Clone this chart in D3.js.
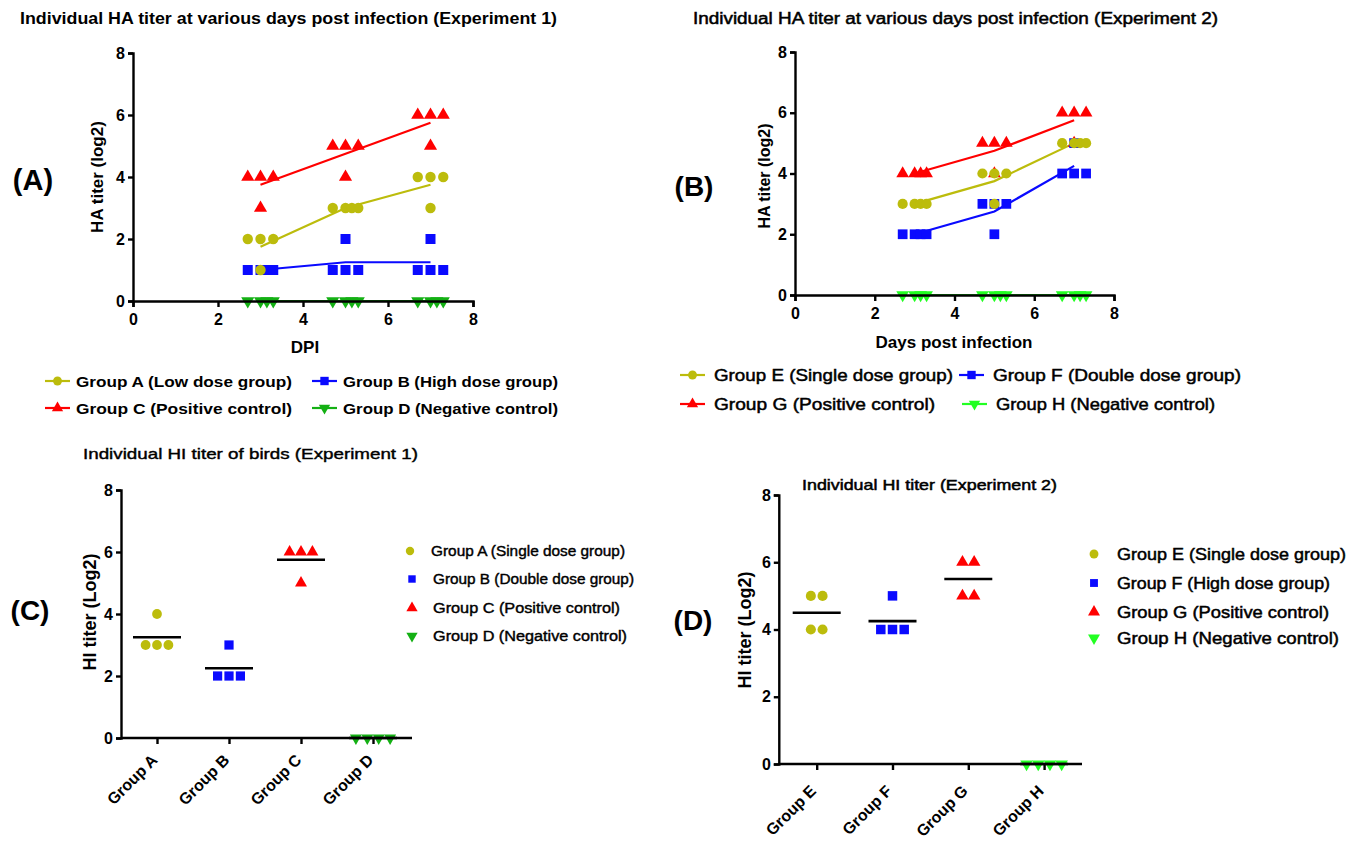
<!DOCTYPE html>
<html>
<head>
<meta charset="utf-8">
<script src="https://cdn.jsdelivr.net/npm/d3@7"></script>
<style>
  body { margin: 0; background: #fff; }
  svg { display: block; }
  text { font-family: "Liberation Sans", Arial, Helvetica, sans-serif; fill: #000; }
</style>
</head>
<body>
<svg id="chart" width="1360" height="841"></svg>
<script>
// HA / HI titer figure, 4 panels

// Days post infection
const days = [3, 5, 7];

// Experiment 1 HA titers (log2), 4 birds per day
const haGroupA = [[2, 2, 1, 2], [3, 3, 3, 3], [4, 4, 3, 4]];
const haGroupB = [[1, 1, 1, 1], [1, 1, 2, 1], [1, 1, 2, 1]];
const haGroupC = [[4, 4, 3, 4], [5, 5, 4, 5], [6, 6, 5, 6]];
const haGroupD = [[0, 0, 0, 0], [0, 0, 0, 0], [0, 0, 0, 0]];

// Experiment 2 HA titers (log2)
const haGroupE = [[3, 3, 3, 3], [4, 4, 3, 4], [5, 5, 5, 5]];
const haGroupF = [[2, 2, 2, 2], [3, 3, 2, 3], [4, 4, 5, 4]];
const haGroupG = [[4, 4, 4, 4], [5, 5, 4, 5], [6, 6, 5, 6]];
const haGroupH = [[0, 0, 0, 0], [0, 0, 0, 0], [0, 0, 0, 0]];

// HI titers (log2)
const hiGroups1 = ['Group A', 'Group B', 'Group C', 'Group D'];
const hiValues1 = [[4, 3, 3, 3], [3, 2, 2, 2], [6, 6, 6, 5], [0, 0, 0, 0]];
const hiGroups2 = ['Group E', 'Group F', 'Group G', 'Group H'];
const hiValues2 = [[5, 5, 4, 4], [5, 4, 4, 4], [6, 6, 5, 5], [0, 0, 0, 0]];

// Legend labels
const legend1 = ['Group A (Low dose group)', 'Group B (High dose group)', 'Group C (Positive control)', 'Group D (Negative control)'];
const legend2 = ['Group E (Single dose group)', 'Group F (Double dose group)', 'Group G (Positive control)', 'Group H (Negative control)'];
const legend3 = ['Group A (Single dose group)', 'Group B (Double dose group)', 'Group C (Positive control)', 'Group D (Negative control)'];
const legend4 = ['Group E (Single dose group)', 'Group F (High dose group)', 'Group G (Positive control)', 'Group H (Negative control)'];

const yTicks = [0, 2, 4, 6, 8];
const xTicks = [0, 2, 4, 6, 8];

const svg = d3.select('#chart');

const yellow = '#bcbc0c';
const blue = '#0a0aff';
const red = '#ff0000';
const green1 = '#14b014';
const green2 = '#22ff22';

const shapes = [d3.symbolCircle, d3.symbolSquare, d3.symbolTriangle, d3.symbolTriangle];

function marker(i, size) {
  return d3.symbol().type(shapes[i]).size(size)();
}

// spread points with equal value around the centre
function dodge(values, offsets) {
  const seen = {};
  const counts = {};
  values.forEach((v) => (counts[v] = (counts[v] || 0) + 1));
  return values.map((v) => {
    seen[v] = (seen[v] || 0);
    const o = offsets[counts[v]][seen[v]];
    seen[v]++;
    return o;
  });
}

function styleAxis(g) {
  g.select('.domain').attr('stroke', '#000').attr('stroke-width', 2.4);
  g.selectAll('.tick line').attr('stroke', '#000').attr('stroke-width', 2.4);
  g.selectAll('.tick text')
    .style('font-size', '16px')
    .style('font-weight', 'bold');
}

function addText(x, y, str, size, weight, opts) {
  opts = opts || {};
  const t = svg
    .append('text')
    .attr('x', x)
    .attr('y', y)
    .attr('text-anchor', opts.anchor || 'start')
    .attr('dominant-baseline', 'central')
    .style('font-size', size + 'px')
    .style('font-weight', weight)
    .text(str);
  if (opts.rotate) t.attr('transform', `rotate(${opts.rotate},${x},${y})`);
  if (opts.len) t.attr('textLength', opts.len).attr('lengthAdjust', 'spacingAndGlyphs');
  if (opts.stroke) t.style('stroke', '#000').style('stroke-width', opts.stroke);
  return t;
}

// ---- HA panels ----
function drawHA(cfg) {
  const x = d3.scaleLinear().domain([0, 8]).range(cfg.xr);
  const y = d3.scaleLinear().domain([0, 8]).range(cfg.yr);
  const g = svg.append('g');
  const dayOffsets = { 1: [0], 2: [-0.15, 0.15], 3: [-0.3, 0, 0.3], 4: [-0.3, 0, 0.15, 0.3] };

  // mean lines
  cfg.groups.forEach((grp, gi) => {
    const means = grp.map((v) => d3.mean(v));
    g.append('path')
      .datum(means)
      .attr('fill', 'none')
      .attr('stroke', cfg.colors[gi])
      .attr('stroke-width', 2.2)
      .attr('d', d3.line().x((d, i) => x(days[i])).y((d) => y(d)));
  });

  // points, last group drawn first
  for (let gi = cfg.groups.length - 1; gi >= 0; gi--) {
    cfg.groups[gi].forEach((vals, di) => {
      const offs = dodge(vals, dayOffsets);
      g.selectAll(null)
        .data(vals)
        .enter()
        .append('path')
        .attr('d', marker(gi, cfg.sizes[gi]))
        .attr('transform', (d, i) => `translate(${x(days[di] + offs[i])},${y(d)})${gi === 3 ? ' rotate(180)' : ''}`)
        .attr('fill', cfg.colors[gi]);
    });
  }

  g.append('g')
    .attr('transform', `translate(0,${cfg.yr[0]})`)
    .call(d3.axisBottom(x).tickValues(xTicks).tickSize(6).tickPadding(7).tickFormat(d3.format('d')))
    .call(styleAxis);
  g.append('g')
    .attr('transform', `translate(${cfg.xr[0]},0)`)
    .call(d3.axisLeft(y).tickValues(yTicks).tickSize(5).tickPadding(3).tickFormat(d3.format('d')))
    .call(styleAxis);
}

function drawLineLegend(items, colors, pos, font) {
  items.forEach((label, i) => {
    const p = pos[i];
    const lg = svg.append('g').attr('transform', `translate(${p[0]},${p[1]})`);
    lg.append('line').attr('x1', 0).attr('x2', 25).attr('stroke', colors[i]).attr('stroke-width', 2.2);
    lg.append('path')
      .attr('d', marker(i, i === 1 ? 70 : i === 0 ? 62 : 55))
      .attr('transform', `translate(12.5,0)${i === 3 ? ' rotate(180)' : ''}`)
      .attr('fill', colors[i]);
    addText(p[0] + font.dx, p[1], label, font.size, font.weight, { len: font.len[i], stroke: font.stroke });
  });
}

// ---- HI panels ----
function drawHI(cfg) {
  const x = d3.scalePoint().domain(cfg.cats).range(cfg.xr).padding(0.5);
  const y = d3.scaleLinear().domain([0, 8]).range(cfg.yr);
  const g = svg.append('g');
  const pxOffsets = { 1: [0], 2: [-0.5, 0.5], 3: [-1, 0, 1], 4: [-1.5, -0.5, 0.5, 1.5] };

  cfg.values.forEach((vals, gi) => {
    const offs = dodge(vals, pxOffsets);
    g.selectAll(null)
      .data(vals)
      .enter()
      .append('path')
      .attr('d', marker(gi, cfg.sizes[gi]))
      .attr('transform', (d, i) => `translate(${x(cfg.cats[gi]) + offs[i] * cfg.step},${y(d)})${gi === 3 ? ' rotate(180)' : ''}`)
      .attr('fill', cfg.colors[gi]);
    const m = d3.mean(vals);
    g.append('line')
      .attr('x1', x(cfg.cats[gi]) - 24)
      .attr('x2', x(cfg.cats[gi]) + 24)
      .attr('y1', y(m))
      .attr('y2', y(m))
      .attr('stroke', '#000')
      .attr('stroke-width', 2.6);
  });

  const xa = g.append('g')
    .attr('transform', `translate(0,${cfg.yr[0]})`)
    .call(d3.axisBottom(x).tickSize(6).tickSizeOuter(0))
    .call(styleAxis);
  xa.select('.domain').attr('d', `M${cfg.xr[0]},0H${cfg.xEnd}`);
  xa.selectAll('.tick text')
    .attr('x', 0)
    .attr('y', 0)
    .attr('dy', '0.35em')
    .attr('transform', `translate(${cfg.lab[0]},${cfg.lab[1]}) rotate(-45)`)
    .style('text-anchor', 'end')
    .style('font-size', '16px');
  g.append('g')
    .attr('transform', `translate(${cfg.xr[0]},0)`)
    .call(d3.axisLeft(y).tickValues(yTicks).tickSize(5).tickPadding(3).tickFormat(d3.format('d')))
    .call(styleAxis);
}

function drawDotLegend(items, colors, pos, font) {
  items.forEach((label, i) => {
    const p = pos[i];
    svg.append('path')
      .attr('d', marker(i, font.msize))
      .attr('transform', `translate(${p[0]},${p[1]})${i === 3 ? ' rotate(180)' : ''}`)
      .attr('fill', colors[i]);
    addText(p[0] + font.dx, p[1], label, font.size, font.weight, { len: font.len[i], stroke: font.stroke });
  });
}

// Panel A
drawHA({
  groups: [haGroupA, haGroupB, haGroupC, haGroupD],
  colors: [yellow, blue, red, green1],
  sizes: [85, 100, 75, 75],
  xr: [133, 473],
  yr: [301, 53],
});
addText(20, 18, 'Individual HA titer at various days post infection (Experiment 1)', 16, 'bold', { len: 537 });
addText(97, 177, 'HA titer (log2)', 17, 'bold', { anchor: 'middle', rotate: -90 });
addText(305, 347, 'DPI', 17, 'bold', { anchor: 'middle' });
addText(33, 180, '(A)', 29, 'bold', { anchor: 'middle' });
drawLineLegend(legend1, [yellow, blue, red, green1],
  [[45, 381], [312, 381], [45, 408], [312, 408]],
  { dx: 31, size: 15, weight: 'bold', len: [216, 215, 216, 215] });

// Panel B
drawHA({
  groups: [haGroupE, haGroupF, haGroupG, haGroupH],
  colors: [yellow, blue, red, green2],
  sizes: [82, 95, 70, 70],
  xr: [795, 1114],
  yr: [295, 52],
});
addText(693, 18, 'Individual HA titer at various days post infection (Experiment 2)', 16, 'normal', { len: 525, stroke: 0.5 });
addText(764, 176, 'HA titer (log2)', 16, 'bold', { anchor: 'middle', rotate: -90 });
addText(954, 342, 'Days post infection', 17, 'bold', { anchor: 'middle' });
addText(694, 186, '(B)', 28, 'bold', { anchor: 'middle' });
drawLineLegend(legend2, [yellow, blue, red, green2],
  [[680, 375], [959, 375], [680, 404], [962, 404]],
  { dx: 34, size: 17, weight: 'normal', stroke: 0.5, len: [239, 248, 221, 219] });

// Panel C
drawHI({
  cats: hiGroups1,
  values: hiValues1,
  colors: [yellow, blue, red, green1],
  sizes: [75, 85, 62, 62],
  xr: [121, 409],
  xEnd: 412,
  yr: [738, 490],
  step: 11.4,
  lab: [-3, 19],
});
addText(83, 453, 'Individual HI titer of birds (Experiment 1)', 15, 'normal', { len: 335, stroke: 0.4 });
addText(90, 612, 'HI titer (Log2)', 18, 'bold', { anchor: 'middle', rotate: -90 });
addText(30, 610, '(C)', 28, 'bold', { anchor: 'middle' });
drawDotLegend(legend3, [yellow, blue, red, green1],
  [[410, 551], [412, 579], [412, 608], [412, 636]],
  { dx: 21, size: 14, weight: 'normal', stroke: 0.4, msize: 55, len: [194, 201, 187, 194] });

// Panel D
drawHI({
  cats: hiGroups2,
  values: hiValues2,
  colors: [yellow, blue, red, green2],
  sizes: [80, 90, 68, 68],
  xr: [778.8, 1082],
  xEnd: 1082,
  yr: [764, 495],
  step: 11.7,
  lab: [-4, 24],
});
addText(802, 484, 'Individual HI titer (Experiment 2)', 15, 'normal', { len: 255, stroke: 0.5 });
addText(745, 630, 'HI titer (Log2)', 18, 'bold', { anchor: 'middle', rotate: -90 });
addText(693, 620, '(D)', 28, 'bold', { anchor: 'middle' });
drawDotLegend(legend4, [yellow, blue, red, green2],
  [[1094, 554], [1094, 583], [1094, 612], [1094, 638]],
  { dx: 23, size: 16.5, weight: 'normal', stroke: 0.5, msize: 62, len: [229, 213, 212, 222] });
</script>
</body>
</html>
